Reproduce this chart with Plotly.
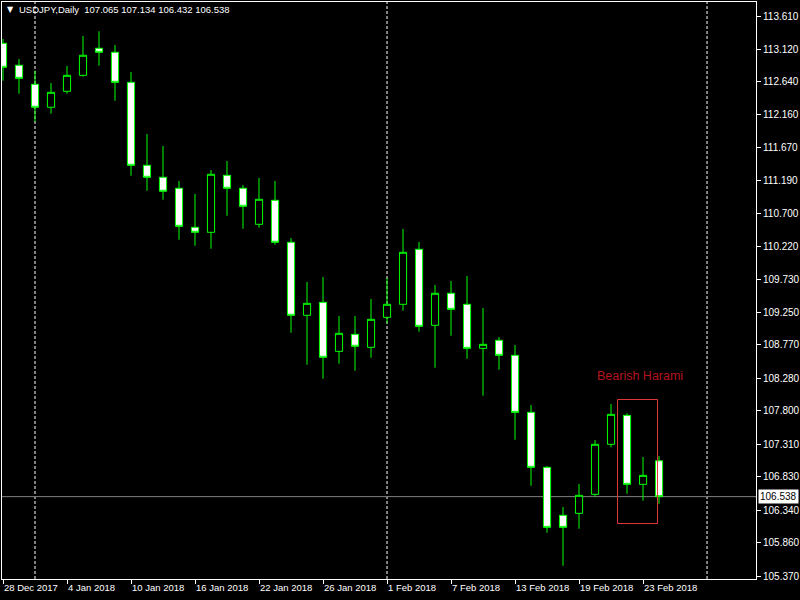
import plotly.graph_objects as go

# ---- data ----
dates = ["28 Dec 2017", "29 Dec 2017", "2 Jan 2018", "3 Jan 2018", "4 Jan 2018", "5 Jan 2018",
         "8 Jan 2018", "9 Jan 2018", "10 Jan 2018", "11 Jan 2018", "12 Jan 2018", "15 Jan 2018",
         "16 Jan 2018", "17 Jan 2018", "18 Jan 2018", "19 Jan 2018", "22 Jan 2018", "23 Jan 2018",
         "24 Jan 2018", "25 Jan 2018", "26 Jan 2018", "29 Jan 2018", "30 Jan 2018", "31 Jan 2018",
         "1 Feb 2018", "2 Feb 2018", "5 Feb 2018", "6 Feb 2018", "7 Feb 2018", "8 Feb 2018",
         "9 Feb 2018", "12 Feb 2018", "13 Feb 2018", "14 Feb 2018", "15 Feb 2018", "16 Feb 2018",
         "19 Feb 2018", "20 Feb 2018", "21 Feb 2018", "22 Feb 2018", "23 Feb 2018", "26 Feb 2018"]

open_ = [113.208, 112.885, 112.605, 112.267, 112.502, 112.737, 113.135, 113.076, 112.634, 111.413,
         111.237, 111.075, 110.501, 110.427, 111.266, 111.075, 110.545, 110.898, 110.280, 109.206,
         109.397, 108.676, 108.926, 108.735, 109.176, 109.368, 110.177, 109.059, 109.530, 109.368,
         108.720, 108.838, 108.617, 107.778, 106.969, 106.263, 106.292, 106.572, 107.308, 107.734,
         106.719, 107.065]
high = [113.272, 112.977, 112.805, 112.624, 112.874, 113.316, 113.385, 113.183, 112.786, 111.874,
        111.697, 111.182, 110.991, 111.344, 111.476, 111.123, 111.226, 111.182, 110.343, 109.696,
        109.769, 109.196, 109.196, 109.446, 109.755, 110.476, 110.284, 109.652, 109.711, 109.784,
        109.313, 108.887, 108.769, 107.886, 106.988, 106.385, 106.723, 107.371, 107.901, 107.764,
        107.121, 107.134]
low = [112.658, 112.467, 112.055, 112.172, 112.467, 112.717, 112.879, 112.364, 111.260, 111.039,
       110.907, 110.318, 110.230, 110.186, 110.671, 110.480, 110.495, 110.245, 108.950, 108.479,
       108.273, 108.494, 108.391, 108.582, 109.088, 109.274, 108.965, 108.435, 108.906, 108.567,
       108.023, 108.405, 107.375, 106.698, 106.007, 105.521, 106.066, 106.537, 107.263, 106.581,
       106.478, 106.432]
close = [112.855, 112.693, 112.267, 112.487, 112.737, 113.032, 113.076, 112.634, 111.413, 111.237,
         111.031, 110.515, 110.427, 111.281, 111.075, 110.810, 110.913, 110.280, 109.206, 109.382,
         108.588, 108.941, 108.750, 109.147, 109.368, 110.133, 109.044, 109.530, 109.294, 108.720,
         108.779, 108.617, 107.778, 106.969, 106.086, 106.086, 106.557, 107.308, 107.749, 106.719,
         106.851, 106.538]

ytick_vals = [113.610, 113.120, 112.640, 112.160, 111.670, 111.190, 110.700, 110.220, 109.730,
              109.250, 108.770, 108.280, 107.800, 107.310, 106.830, 106.340, 105.860, 105.370]
xtick_labels = ["28 Dec 2017", "4 Jan 2018", "10 Jan 2018", "16 Jan 2018", "22 Jan 2018",
                "26 Jan 2018", "1 Feb 2018", "7 Feb 2018", "13 Feb 2018", "19 Feb 2018", "23 Feb 2018"]
separator_dates = ["2 Jan 2018", "1 Feb 2018"]
last_price = 106.538
title_text = "USDJPY,Daily  107.065 107.134 106.432 106.538"
pattern_label = "Bearish Harami"
pattern_box = dict(x0=38.406, x1=40.906, y0=106.142, y1=107.967)

# ---- figure ----
idx = list(range(len(dates)))
FONT = "Liberation Sans, Arial, sans-serif"
GREEN = "#00FF00"

fig = go.Figure()
fig.add_trace(go.Candlestick(
    x=idx, open=open_, high=high, low=low, close=close,
    increasing=dict(line=dict(color=GREEN, width=1), fillcolor="#000000"),
    decreasing=dict(line=dict(color=GREEN, width=1), fillcolor="#FFFFFF"),
    whiskerwidth=0, hoverinfo="skip", showlegend=False,
))

xtick_pos = [dates.index(d) for d in xtick_labels]
sep_pos = [dates.index(d) for d in separator_dates] + [len(dates) + 2]  # 1 Mar 2018 (future)

shapes = []
for p in sep_pos:
    shapes.append(dict(type="line", xref="x", yref="paper", x0=p, x1=p, y0=0, y1=1,
                       line=dict(color="#FFFFFF", width=1, dash="3px,2px"), layer="below"))
shapes.append(dict(type="line", xref="paper", yref="y", x0=0, x1=1, y0=last_price, y1=last_price,
                   line=dict(color="#808080", width=1), layer="below"))
# pattern box around candles 39-40
shapes.append(dict(type="rect", xref="x", yref="y", **pattern_box,
                   line=dict(color="#E03838", width=1), fillcolor="rgba(0,0,0,0)", layer="above"))

annotations = [
    dict(xref="paper", yref="paper", x=(5 - 2) / 754, y=(579 - 10) / 577, text="▼",
         showarrow=False, xanchor="left", yanchor="middle",
         font=dict(family="DejaVu Sans", size=8, color="#FFFFFF")),
    dict(xref="paper", yref="paper", x=(17 - 2) / 754, y=(579 - 10) / 577, text=title_text,
         showarrow=False, xanchor="left", yanchor="middle",
         font=dict(family=FONT, size=9.5, color="#FFFFFF")),
    dict(xref="x", yref="y", x=39.8, y=108.313, text=pattern_label, showarrow=False,
         xanchor="center", yanchor="middle",
         font=dict(family=FONT, size=12.5, color="#B4141E")),
    dict(xref="paper", yref="y", x=(758 - 2) / 754, y=last_price, text=f"{last_price:.3f}",
         showarrow=False, xanchor="left", yanchor="middle", bgcolor="#FFFFFF",
         borderpad=1, font=dict(family=FONT, size=10, color="#000000")),
]

fig.update_layout(
    width=800, height=600,
    paper_bgcolor="#000000", plot_bgcolor="#000000",
    margin=dict(l=2, r=44, t=2, b=21, autoexpand=False),
    boxgap=0.36,
    shapes=shapes, annotations=annotations,
    showlegend=False,
    xaxis=dict(
        range=[-0.0625, 47.06], rangeslider=dict(visible=False),
        showgrid=False, zeroline=False, automargin=False,
        showline=True, mirror=True, linecolor="#FFFFFF", linewidth=1,
        tickmode="array", tickvals=xtick_pos, ticktext=xtick_labels,
        ticks="outside", ticklen=4, tickcolor="#FFFFFF", tickwidth=1,
        ticklabelposition="outside right", tickangle=0,
        tickfont=dict(family=FONT, size=9.5, color="#FFFFFF"),
    ),
    yaxis=dict(
        range=[105.326, 113.816], side="right",
        showgrid=False, zeroline=False, automargin=False,
        showline=True, mirror=True, linecolor="#FFFFFF", linewidth=1,
        tickmode="array", tickvals=ytick_vals, ticktext=[f"{v:.3f}" for v in ytick_vals],
        ticks="outside", ticklen=4, tickcolor="#FFFFFF", tickwidth=1,
        tickfont=dict(family=FONT, size=10, color="#FFFFFF"),
    ),
)

fig.write_html("out.html", config={"displayModeBar": False},
               post_script="document.body.style.margin='0';document.body.style.background='#000';")
